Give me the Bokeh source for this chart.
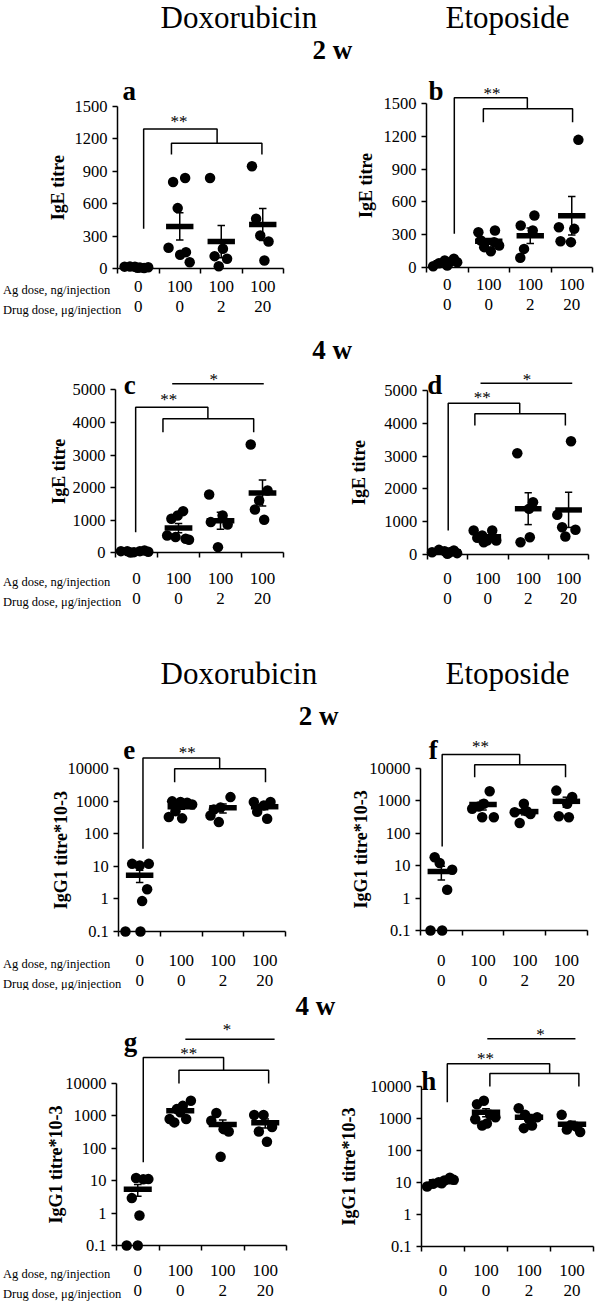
import numpy as np
from bokeh.plotting import figure
from bokeh.models import Range1d, LinearAxis, LogAxis, FixedTicker, Label
from bokeh.layouts import column, row
from bokeh.embed import file_html
from bokeh.resources import INLINE

FONT = "Liberation Serif"

# ---------------- data ----------------
AG_DOSE = ["0", "100", "100", "100"]
DRUG_DOSE = ["0", "0", "2", "20"]
ROW_LABEL_AG = "Ag dose, ng/injection"
ROW_LABEL_DRUG = "Drug dose, \u03bcg/injection"

DRUGS = ["Doxorubicin", "Etoposide"]
WEEKS = ["2 w", "4 w"]

IGE_2W_TICKS = [0, 300, 600, 900, 1200, 1500]
IGE_2W_LABELS = ["0", "300", "600", "900", "1200", "1500"]
IGE_4W_TICKS = [0, 1000, 2000, 3000, 4000, 5000]
IGE_4W_LABELS = ["0", "1000", "2000", "3000", "4000", "5000"]
IGG1_TICKS = [0.1, 1, 10, 100, 1000, 10000]
IGG1_LABELS = ["0.1", "1", "10", "100", "1000", "10000"]
IGE_YLABEL = "IgE titre"
IGG1_YLABEL = "IgG1 titre*10-3"

# individual animals per group (4 groups per panel)
A_VALUES = [[20, 22, 18, 12, 8, 10, 15], [802, 839, 561, 194, 130, 154, 61],
            [839, 185, 117, 93, 24], [947, 463, 308, 253, 77]]
B_VALUES = [[9, 37, 61, 46, 77, 15, 46], [321, 337, 199, 147, 184, 245, 230],
            [383, 474, 337, 168, 86], [1169, 367, 352, 239, 230]]
C_VALUES = [[51, 51, 20, 51, 72, 10, 30], [1043, 1278, 1145, 532, 481, 429, 399],
            [1789, 1145, 941, 869, 174], [3323, 1912, 1605, 1329, 1012]]
D_VALUES = [[71, 142, 102, 71, 122, 20, 41], [732, 732, 579, 508, 427, 427, 376],
            [3089, 1595, 1392, 528, 376], [3455, 1209, 833, 752, 549]]
E_VALUES = [[12, 12, 10.7, 2.0, 0.86, 0.1, 0.1], [1000, 950, 900, 800, 500, 330, 300],
            [1350, 650, 560, 365, 230], [950, 950, 750, 480, 290]]
F_VALUES = [[18, 12, 7.4, 1.8, 0.1, 0.1], [1950, 800, 660, 560, 310, 310],
            [800, 440, 390, 205, 470], [2040, 1290, 800, 330, 310]]
G_VALUES = [[12.1, 11.2, 11, 2.9, 0.84, 0.1, 0.1], [800, 630, 800, 1620, 2040, 2930, 1300],
            [1230, 710, 390, 330, 55], [1070, 1070, 330, 455, 160]]
H_VALUES = [[7.5, 9.1, 10.2, 11.5, 14, 12.1, 9.5], [3600, 2800, 1300, 1100, 950, 700, 600],
            [2100, 1300, 1100, 950, 600, 500], [1300, 600, 550, 450, 380]]

# horizontal scatter of the dots inside each group (fraction of a group width)
A_JITTER = [[-0.33, -0.2, -0.08, 0.04, 0.14, -0.02, 0.24], [-0.16, 0.13, -0.05, -0.27, 0.01, 0.15, 0.24],
            [-0.27, 0.04, -0.16, 0.14, -0.06], [-0.26, -0.16, -0.06, 0.14, 0.04]]
B_JITTER = [[-0.34, -0.2, -0.06, 0.06, 0.16, 0.0, 0.24], [-0.25, 0.15, 0.25, 0.05, -0.11, -0.19, 0.13],
            [-0.23, 0.1, 0.06, -0.15, -0.24], [0.16, -0.31, 0.06, -0.27, -0.02]]
C_JITTER = [[-0.37, -0.22, -0.06, 0.08, 0.19, -0.14, 0.28], [-0.17, 0.11, -0.02, -0.27, -0.07, 0.17, 0.25],
            [-0.27, 0.05, -0.23, 0.17, -0.06], [-0.28, 0.12, -0.08, -0.18, 0.04]]
D_JITTER = [[-0.38, -0.21, -0.07, 0.06, 0.16, 0.0, 0.24], [-0.35, 0.11, -0.14, -0.26, -0.02, 0.21, -0.10],
            [-0.27, 0.12, 0.02, 0.04, -0.19], [0.06, -0.28, -0.16, 0.17, -0.08]]
E_JITTER = [[-0.18, 0.22, 0.0, 0.18, 0.06, -0.34, 0.02], [-0.22, -0.02, 0.14, 0.26, -0.14, -0.30, 0.02],
            [0.18, -0.06, -0.22, -0.3, -0.1], [-0.26, 0.14, -0.02, -0.18, 0.06]]
F_JITTER = [[-0.16, -0.04, 0.26, 0.14, -0.26, 0.02], [0.16, 0.02, -0.1, -0.26, -0.02, 0.26],
            [-0.02, -0.24, 0.14, -0.12, 0.05], [-0.24, 0.14, 0.02, -0.18, 0.06]]
G_JITTER = [[-0.04, 0.25, 0.13, -0.14, 0.04, -0.26, 0.0], [-0.25, -0.14, 0.14, -0.08, 0.06, 0.25, 0.0],
            [-0.15, -0.27, 0.02, 0.14, -0.05], [-0.26, -0.04, -0.15, 0.16, 0.04]]
H_JITTER = [[-0.37, -0.23, -0.10, 0.03, 0.16, 0.25, -0.03], [-0.05, -0.21, 0.1, 0.22, -0.25, 0.02, -0.09],
            [-0.24, -0.09, 0.19, 0.0, 0.07, -0.12], [-0.24, -0.04, 0.11, -0.12, 0.19]]

# significance brackets: left_x, left_y0, top_y, join_x, low_y, low_x0, low_x1, end_y
A_SIG = [1.13, 370, 1293, 2.9, 1160, 1.80, 3.98, 1057]
B_SIG = [1.17, 306, 1555, 2.93, 1454, 1.87, 4.02, 1331]
C_SIG = [0.98, 632, 4466, 2.70, 4110, 1.63, 3.79, 3700]
D_SIG = [1.02, 732, 4614, 2.79, 4289, 1.68, 3.92, 3933]
E_SIG = [1.08, 35, 21400, 2.92, 10000, 1.84, 4.02, 3890]
F_SIG = [1.02, 39, 26300, 2.88, 12700, 1.80, 3.98, 5250]
G_SIG = [1.13, 37, 63000, 3.02, 25700, 1.97, 4.08, 10000]
H_SIG = [1.10, 3240, 51300, 3.48, 25400, 2.09, 4.16, 10000]
# single-line comparisons: x0, x1, y
C_LINE = [1.85, 4.03, 5184]
D_LINE = [1.82, 4.09, 5223]
G_LINE = [2.12, 4.22, 234000]
H_LINE = [2.03, 4.08, 310000]
# stars: text, x, y
A_STARS = [("**", 1.98, 1389)]
B_STARS = [("**", 2.08, 1622)]
C_STARS = [("**", 1.77, 4773), ("*", 2.84, 5408)]
D_STARS = [("**", 1.86, 4878), ("*", 2.97, 5427)]
E_STARS = [("**", 2.14, 38000)]
F_STARS = [("**", 1.94, 56000)]
G_STARS = [("**", 2.20, 100000), ("*", 3.10, 550000)]
H_STARS = [("**", 1.99, 93000), ("*", 3.27, 500000)]

# ---------------- layout (pixels) ----------------
LEFT_W, RIGHT_W = 296, 300
LAY = {
    "a": dict(W=LEFT_W, H=257, xl=117, xr=283, yb=203.3, yt=41, r1=21, r2=41, ylab=57, let=(122, 35)),
    "b": dict(W=RIGHT_W, H=257, xl=130, xr=296, yb=201.7, yt=38.3, r1=21.6, r2=41.6, ylab=69, let=(132, 35)),
    "c": dict(W=LEFT_W, H=252, xl=115, xr=283, yb=187.3, yt=24.3, r1=29.4, r2=49.4, ylab=58, let=(123.3, 28.3)),
    "d": dict(W=RIGHT_W, H=252, xl=130.7, xr=292.3, yb=189, yt=25, r1=27.7, r2=47.7, ylab=62.3, let=(130.7, 28.3)),
    "e": dict(W=LEFT_W, H=260, xl=118.3, xr=285, yb=201, yt=38.3, r1=32.3, r2=52.3, ylab=60, let=(122.7, 28.3)),
    "f": dict(W=RIGHT_W, H=260, xl=124, xr=290.7, yb=200, yt=37.7, r1=33.3, r2=53.3, ylab=64, let=(132.3, 28.3)),
    "g": dict(W=LEFT_W, H=281, xl=116, xr=286, yb=225, yt=63, r1=28.3, r2=48.3, ylab=55, let=(123.3, 31)),
    "h": dict(W=RIGHT_W, H=281, xl=125, xr=297, yb=226, yt=66, r1=27.3, r2=47.3, ylab=52.3, let=(124.7, 70)),
}
MID = 0.34  # em fraction between alphabetic baseline and the middle anchor


def base_fig(W, H, xr, yr, log=False):
    p = figure(width=W, height=H, x_range=xr, y_range=yr,
               y_axis_type="log" if log else "linear",
               x_axis_location=None, y_axis_location=None,
               toolbar_location=None, output_backend="svg", min_border=0,
               outline_line_color=None, background_fill_color="white",
               border_fill_color="white")
    for g in p.grid:
        g.visible = False
    return p


def build_panel(letter, values, jitter, ticks, tick_labels, ylabel, log, sig, line, stars, left_col):
    lay = LAY[letter]
    W, H = lay["W"], lay["H"]
    xl, xr, yb, yt = lay["xl"], lay["xr"], lay["yb"], lay["yt"]
    lo, hi = ticks[0], ticks[-1]
    L0, L1 = (np.log10(lo), np.log10(hi)) if log else (lo, hi)
    cw = (xr - xl) / 4.0
    ppu = (yb - yt) / (L1 - L0)

    def px2x(px):
        return 0.5 + (px - xl) / cw

    def px2y(py):
        v = L1 + (yt - py) / ppu
        return 10 ** v if log else v

    p = base_fig(W, H, Range1d(px2x(0), px2x(W)), Range1d(px2y(H), px2y(0)), log)

    # brackets
    lx, ly0, ty, jx, lwy, lx0, lx1, ey = sig
    xs = [[lx, lx, jx, jx], [lx0, lx0, lx1, lx1]]
    ys = [[ly0, ty, ty, lwy], [ey, lwy, lwy, ey]]
    if line is not None:
        xs.append([line[0], line[1]])
        ys.append([line[2], line[2]])
    p.multi_line(xs, ys, line_color="black", line_width=1.5)

    # dots
    px_, py_ = [], []
    for gi, (vals, jit) in enumerate(zip(values, jitter)):
        for v, j in zip(vals, jit):
            px_.append(gi + 1 + j)
            py_.append(v)
    p.scatter(px_, py_, size=10.5, fill_color="black", line_color="black", line_width=0)

    # mean and SEM
    g = np.arange(1, 5)
    means = np.array([np.mean(v) for v in values])
    sems = np.array([np.std(v, ddof=1) / np.sqrt(len(v)) for v in values])
    lows = np.maximum(means - sems, lo)
    highs = means + sems
    p.segment(x0=g, x1=g, y0=lows, y1=highs, line_color="black", line_width=1.5)
    p.segment(x0=g - 0.09, x1=g + 0.09, y0=highs, y1=highs, line_color="black", line_width=1.5)
    p.segment(x0=g - 0.09, x1=g + 0.09, y0=lows, y1=lows, line_color="black", line_width=1.5)
    p.segment(x0=g - 0.33, x1=g + 0.33, y0=means, y1=means, line_color="black", line_width=5.5)

    # y axis
    AxisCls = LogAxis if log else LinearAxis
    yax = AxisCls(fixed_location=0.5, bounds=(lo, hi),
                  ticker=FixedTicker(ticks=ticks, minor_ticks=[]),
                  major_label_overrides={t: s for t, s in zip(ticks, tick_labels)},
                  axis_line_width=1.5, major_tick_line_width=1.5,
                  major_tick_out=5, major_tick_in=0, minor_tick_out=0, minor_tick_in=0,
                  major_label_standoff=5,
                  major_label_text_font=FONT, major_label_text_font_size="16.5px",
                  major_label_text_color="black")
    p.add_layout(yax, "left")

    # x axis with boundary ticks
    bticks = [0.5, 1.5, 2.5, 3.5, 4.5]
    xax = LinearAxis(fixed_location=lo, bounds=(0.5, 4.5),
                     ticker=FixedTicker(ticks=bticks, minor_ticks=[]),
                     major_label_overrides={t: "" for t in bticks},
                     axis_line_width=1.5, major_tick_line_width=1.5,
                     major_tick_out=5, major_tick_in=0, minor_tick_out=0, minor_tick_in=0)
    p.add_layout(xax, "below")

    # group labels (two rows)
    for labels, off in ((AG_DOSE, lay["r1"]), (DRUG_DOSE, lay["r2"])):
        ax = LinearAxis(fixed_location=lo, bounds=(0.5, 4.5),
                        ticker=FixedTicker(ticks=[1, 2, 3, 4], minor_ticks=[]),
                        major_label_overrides={i + 1: s for i, s in enumerate(labels)},
                        axis_line_color=None, major_tick_line_color=None,
                        minor_tick_line_color=None,
                        major_tick_out=0, major_tick_in=0, minor_tick_out=0, minor_tick_in=0,
                        major_label_standoff=int(round(off - 9.5)),
                        major_label_text_font=FONT, major_label_text_font_size="17px",
                        major_label_text_color="black")
        p.add_layout(ax, "below")
        if left_col:
            txt = ROW_LABEL_AG if labels is AG_DOSE else ROW_LABEL_DRUG
            p.add_layout(Label(x=px2x(2.5), y=px2y(yb + off), text=txt,
                               text_font=FONT, text_font_size="12.5px",
                               text_align="left", text_baseline="middle",
                               text_color="black"))

    # y title
    p.add_layout(Label(x=px2x(lay["ylab"]), y=px2y((yb + yt) / 2.0), text=ylabel,
                       angle=np.pi / 2, text_align="center", text_baseline="middle",
                       text_font=FONT, text_font_size="18px", text_font_style="bold",
                       text_color="black"))
    # panel letter (baseline given in pixels)
    lxp, lyp = lay["let"]
    p.add_layout(Label(x=px2x(lxp), y=px2y(lyp - MID * 27), text=letter,
                       text_align="left", text_baseline="middle",
                       text_font=FONT, text_font_size="27px", text_font_style="bold",
                       text_color="black"))
    # stars
    for txt, sx, sy in stars:
        p.add_layout(Label(x=sx, y=sy, text=txt, text_align="center",
                           text_baseline="middle", y_offset=-2.7,
                           text_font=FONT, text_font_size="17px", text_color="black"))
    return p


def header(W, H, items):
    p = base_fig(W, H, Range1d(0, W), Range1d(0, H))
    for text, x, baseline, size, style in items:
        p.add_layout(Label(x=x, y=H - (baseline - MID * size), text=text, text_font=FONT,
                           text_font_size="%gpx" % size, text_font_style=style,
                           text_align="left", text_baseline="middle",
                           text_color="black"))
    return p


pa = build_panel("a", A_VALUES, A_JITTER, IGE_2W_TICKS, IGE_2W_LABELS, IGE_YLABEL, False, A_SIG, None, A_STARS, True)
pb = build_panel("b", B_VALUES, B_JITTER, IGE_2W_TICKS, IGE_2W_LABELS, IGE_YLABEL, False, B_SIG, None, B_STARS, False)
pc = build_panel("c", C_VALUES, C_JITTER, IGE_4W_TICKS, IGE_4W_LABELS, IGE_YLABEL, False, C_SIG, C_LINE, C_STARS, True)
pd = build_panel("d", D_VALUES, D_JITTER, IGE_4W_TICKS, IGE_4W_LABELS, IGE_YLABEL, False, D_SIG, D_LINE, D_STARS, False)
pe = build_panel("e", E_VALUES, E_JITTER, IGG1_TICKS, IGG1_LABELS, IGG1_YLABEL, True, E_SIG, None, E_STARS, True)
pf = build_panel("f", F_VALUES, F_JITTER, IGG1_TICKS, IGG1_LABELS, IGG1_YLABEL, True, F_SIG, None, F_STARS, False)
pg = build_panel("g", G_VALUES, G_JITTER, IGG1_TICKS, IGG1_LABELS, IGG1_YLABEL, True, G_SIG, G_LINE, G_STARS, True)
ph = build_panel("h", H_VALUES, H_JITTER, IGG1_TICKS, IGG1_LABELS, IGG1_YLABEL, True, H_SIG, H_LINE, H_STARS, False)

TOTAL_W = LEFT_W + RIGHT_W
h1 = header(TOTAL_W, 65, [(DRUGS[0], 160, 28, 31, "normal"), (DRUGS[1], 445, 28, 31, "normal"),
                          (WEEKS[0], 312, 58.3, 27, "bold")])
h2 = header(TOTAL_W, 43, [(WEEKS[1], 311.7, 36.3, 27, "bold")])
h3 = header(TOTAL_W, 113, [(DRUGS[0], 160, 66.3, 31, "normal"), (DRUGS[1], 445, 66.3, 31, "normal"),
                           (WEEKS[0], 298.3, 108, 27, "bold")])
h4 = header(TOTAL_W, 30, [(WEEKS[1], 295, 24.4, 27, "bold")])

layout = column(h1, row(pa, pb), h2, row(pc, pd), h3, row(pe, pf), h4, row(pg, ph))

open("out.html", "w").write(file_html(layout, INLINE))
